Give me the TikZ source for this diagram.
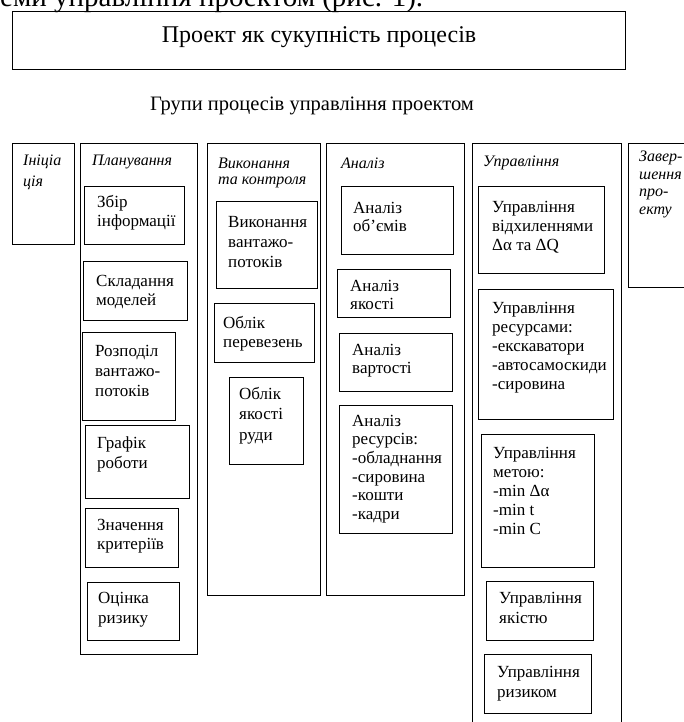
\documentclass[tikz,border=0pt]{standalone}
\usepackage{fontspec}
\setmainfont{Liberation Serif}
\begin{document}
\begin{tikzpicture}[x=1pt,y=-1pt,
  box/.style={draw, line width=0.9pt, inner sep=0pt, outer sep=0pt, anchor=north west},
  lbl/.style={inner sep=0pt, anchor=base west, align=left, font=\fontsize{17}{19}\selectfont},
  hdr/.style={inner sep=0pt, anchor=base west, align=left, font=\fontsize{16}{17.5}\selectfont\itshape}]
\useasboundingbox (0,0) rectangle (684,722);
\clip (0,0) rectangle (684,722);
% cut-off text at the top
\node[inner sep=0pt, anchor=base west, font=\fontsize{29}{34}\selectfont] (cut) at (0,7) {еми управління проектом (рис. 1).};
% title box
\node[box, minimum width=613pt, minimum height=58pt] (proj) at (12,11) {};
\node[inner sep=0pt, anchor=base, font=\fontsize{24}{28}\selectfont] (projT) at (319,43) {Проект як сукупність процесів};
\node[inner sep=0pt, anchor=base, font=\fontsize{20.5}{24}\selectfont] (groups) at (312,111) {Групи процесів управління проектом};
% columns (base anchor = baseline of the last line)
\node[box, minimum width=62pt, minimum height=101pt] (init) at (12,143) {};
\node[hdr, font=\fontsize{16}{21}\selectfont\itshape] (initT) at (23,186) {Ініціа\\ція};
\node[box, minimum width=117pt, minimum height=511pt] (plan) at (80,143) {};
\node[hdr] (planT) at (92,165) {Планування};
\node[box, minimum width=113pt, minimum height=452pt] (vyk) at (207,143) {};
\node[hdr, font=\fontsize{16}{16}\selectfont\itshape] (vykT) at (218,184) {Виконання\\та контроля};
\node[box, minimum width=138pt, minimum height=452pt] (anal) at (326,143) {};
\node[hdr] (analT) at (341,168) {Аналіз};
\node[box, minimum width=149pt, minimum height=620pt] (upr) at (472,143) {};
\node[hdr] (uprT) at (483,167) {Управління};
\node[box, minimum width=80pt, minimum height=144pt] (zav) at (628,143) {};
\node[hdr] (zavT) at (639,214.5) {Завер-\\шення\\про-\\екту};
% planning
\node[box, minimum width=100pt, minimum height=58pt] (zbir) at (84,186) {};
\node[lbl] (zbirT) at (97,226.5) {Збір\\інформації};
\node[box, minimum width=104pt, minimum height=59pt] (sklad) at (83,261) {};
\node[lbl] (skladT) at (96,305) {Складання\\моделей};
\node[box, minimum width=93pt, minimum height=88pt] (rozp) at (82,332) {};
\node[lbl, font=\fontsize{17}{20}\selectfont] (rozpT) at (95,396) {Розподіл\\вантажо-\\потоків};
\node[box, minimum width=104pt, minimum height=73pt] (graf) at (85,425) {};
\node[lbl, font=\fontsize{17}{20}\selectfont] (grafT) at (97,468) {Графік\\роботи};
\node[box, minimum width=93pt, minimum height=59pt] (znach) at (85,508) {};
\node[lbl] (znachT) at (97,549) {Значення\\критеріїв};
\node[box, minimum width=92pt, minimum height=58pt] (otsin) at (87,582) {};
\node[lbl, font=\fontsize{17}{20}\selectfont] (otsinT) at (98,623) {Оцінка\\ризику};
% execution
\node[box, minimum width=101pt, minimum height=87pt] (vykvan) at (216,201) {};
\node[lbl, font=\fontsize{17}{20}\selectfont] (vykvanT) at (228,267) {Виконання\\вантажо-\\потоків};
\node[box, minimum width=100pt, minimum height=59pt] (obl1) at (214,303) {};
\node[lbl] (obl1T) at (223,347) {Облік\\перевезень};
\node[box, minimum width=74pt, minimum height=87pt] (obl2) at (229,377) {};
\node[lbl, font=\fontsize{17}{20.5}\selectfont] (obl2T) at (239,440) {Облік\\якості\\руди};
% analysis
\node[box, minimum width=112pt, minimum height=68pt] (an1) at (341,186) {};
\node[lbl, font=\fontsize{17}{18.5}\selectfont] (an1T) at (353,231.5) {Аналіз\\об’ємів};
\node[box, minimum width=113pt, minimum height=48pt] (an2) at (337,269) {};
\node[lbl, font=\fontsize{17}{18.5}\selectfont] (an2T) at (350,309.5) {Аналіз\\якості};
\node[box, minimum width=113pt, minimum height=58pt] (an3) at (339,333) {};
\node[lbl, font=\fontsize{17}{18.5}\selectfont] (an3T) at (352,373.5) {Аналіз\\вартості};
\node[box, minimum width=113pt, minimum height=128pt] (an4) at (339,405) {};
\node[lbl, font=\fontsize{17}{18.7}\selectfont] (an4T) at (352,519.5) {Аналіз\\ресурсів:\\-обладнання\\-сировина\\-кошти\\-кадри};
% management
\node[box, minimum width=126pt, minimum height=87pt] (u1) at (478,186) {};
\node[lbl] (u1T) at (492,250) {Управління\\відхиленнями\\Δα та ΔQ};
\node[box, minimum width=135pt, minimum height=130pt] (u2) at (478,289) {};
\node[lbl] (u2T) at (492,389) {Управління\\ресурсами:\\-екскаватори\\-автосамоскиди\\-сировина};
\node[box, minimum width=113pt, minimum height=133pt] (u3) at (481,434) {};
\node[lbl] (u3T) at (493,534) {Управління\\метою:\\-min Δα\\-min t\\-min C};
\node[box, minimum width=107pt, minimum height=59pt] (u4) at (486,581) {};
\node[lbl, font=\fontsize{17}{20}\selectfont] (u4T) at (499,623) {Управління\\якістю};
\node[box, minimum width=107pt, minimum height=59pt] (u5) at (484,654) {};
\node[lbl, font=\fontsize{17}{20}\selectfont] (u5T) at (497,697) {Управління\\ризиком};
\end{tikzpicture}
\end{document}
